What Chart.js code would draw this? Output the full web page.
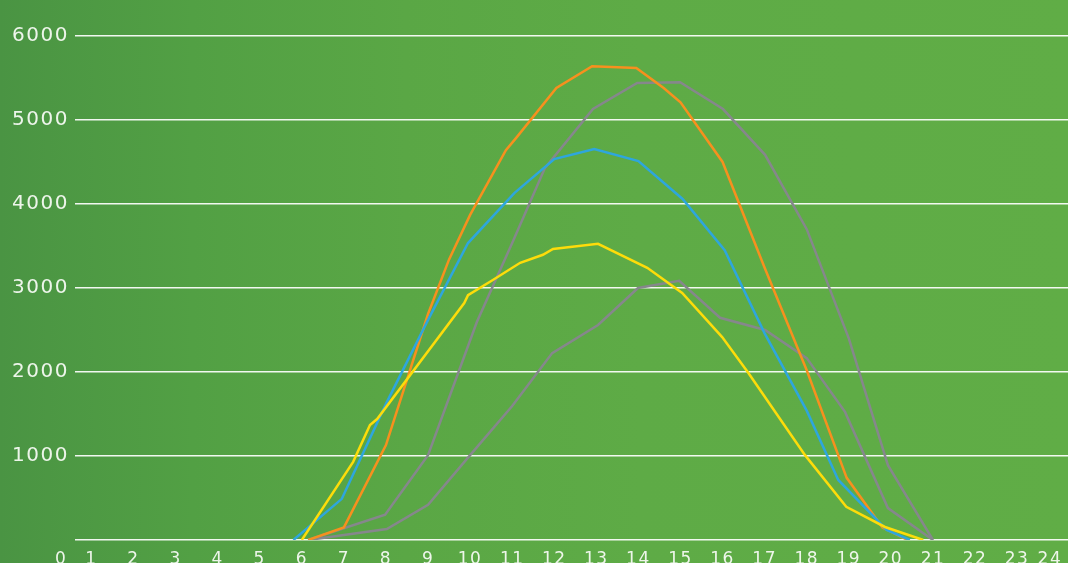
<!DOCTYPE html>
<html><head><meta charset="utf-8">
<script src="https://cdn.jsdelivr.net/npm/chart.js@4/dist/chart.umd.min.js"></script>
<style>
html,body{margin:0;padding:0;width:1068px;height:563px;overflow:hidden;}
body{background:linear-gradient(90deg,#4a9443 0%,#52a044 18%,#5aa745 38%,#5eab46 60%,#60ad46 100%);}
#wrap{position:relative;width:1068px;height:580px;}
</style></head><body>
<div id="wrap"><canvas id="c"></canvas></div>
<script>
// Hour-of-day tick labels on the x axis
const hourLabels = ['0','1','2','3','4','5','6','7','8','9','10','11','12','13','14','15','16','17','18','19','20','21','22','23','24'];
const hourTicks  = [0,1,2,3,4,5,6,7,8,9,10,11,12,13,14,15,16,17,18,19,20,21,22,23,24];
const valueTicks = [0,1000,2000,3000,4000,5000,6000];

// Series: [hour, value]
const orangeSeries = [[6.15,0],[7,150],[8,1130],[9,2690],[9.5,3340],[10,3870],[10.85,4640],[11.1,4790],[12.05,5380],[12.9,5640],[13.95,5620],[14.6,5380],[15,5210],[16,4500],[17,3240],[18,2020],[18.95,740],[19.8,150],[20.4,0]];
const blueSeries   = [[5.8,0],[6.95,490],[8,1620],[9,2620],[9.95,3535],[11.05,4130],[12,4535],[12.95,4655],[14,4510],[15.05,4060],[16.05,3450],[17,2460],[18,1540],[18.75,715],[19.9,120],[20.45,0]];
const yellowSeries = [[6,0],[7.22,930],[7.62,1370],[7.79,1440],[9.86,2820],[9.95,2915],[10.54,3095],[11.19,3300],[11.73,3395],[11.97,3465],[13.04,3525],[14.21,3240],[15.04,2940],[15.99,2415],[16.61,1990],[17.96,1010],[18.94,395],[19.86,155],[20.77,0]];
const grayHighSeries = [[6.15,0],[7.98,300],[9,1010],[10.16,2595],[11,3535],[11.78,4430],[12.92,5130],[13.97,5440],[14.99,5450],[16.01,5130],[17.01,4585],[18,3700],[19,2400],[19.93,890],[21,0]];
const grayLowSeries  = [[6.15,0],[8.02,130],[9,420],[10,1010],[11,1595],[11.95,2225],[13.04,2560],[13.99,3000],[14.97,3085],[15.94,2645],[17.01,2500],[18,2165],[18.91,1525],[19.93,380],[21,0]];

const toPts = s => s.map(([x,y]) => ({x, y}));
const mk = (data, color) => ({data: toPts(data), borderColor: color, borderWidth: 2.5, pointRadius: 0, tension: 0, fill: false});

const font = "'DejaVu Sans', 'Noto Sans', sans-serif";

const spacing = {id: 'spacing', beforeDraw(chart){ chart.ctx.letterSpacing = '1.5px'; }};

new Chart(document.getElementById('c'), {
  type: 'line',
  data: {
    datasets: [
      mk(yellowSeries, '#fddc0a'),
      mk(blueSeries, '#2ea6dd'),
      mk(orangeSeries, '#f7901e'),
      mk(grayHighSeries, '#86878c'),
      mk(grayLowSeries, '#86878c')
    ]
  },
  plugins: [spacing],
  options: {
    responsive: true,
    maintainAspectRatio: false,
    animation: false,
    layout: {padding: 0},
    plugins: {legend: {display: false}, tooltip: {enabled: false}},
    scales: {
      x: {
        type: 'linear',
        min: 0.609, max: 24.21,
        grid: {display: false, drawTicks: false},
        border: {display: false},
        afterBuildTicks: s => {
          s.ticks = hourTicks.map(v => ({value: v === 0 ? 0.28 : (v === 24 ? 23.78 : v)}));
        },
        afterFit: s => { s.paddingLeft = 0; s.paddingRight = 0; },
        ticks: {
          autoSkip: false, maxRotation: 0, minRotation: 0, padding: 9,
          color: 'rgba(246,250,243,0.95)',
          font: {family: font, size: 17, weight: 'normal', lineHeight: '22px'},
          callback: (v, i) => hourLabels[i]
        }
      },
      y: {
        type: 'linear',
        min: 0, max: 6428,
        grid: {color: 'rgba(255,255,255,0.92)', lineWidth: 1.6, drawTicks: false},
        border: {display: false},
        afterBuildTicks: s => { s.ticks = valueTicks.map(v => ({value: v})); },
        afterFit: s => { s.width = 75; s.paddingTop = 0; s.paddingBottom = 0; },
        ticks: {
          padding: 6,
          color: 'rgba(246,250,243,0.95)',
          font: {family: font, size: 20, weight: 'normal'},
          callback: v => v === 0 ? '' : String(v)
        }
      }
    }
  }
});
</script>
</body></html>
